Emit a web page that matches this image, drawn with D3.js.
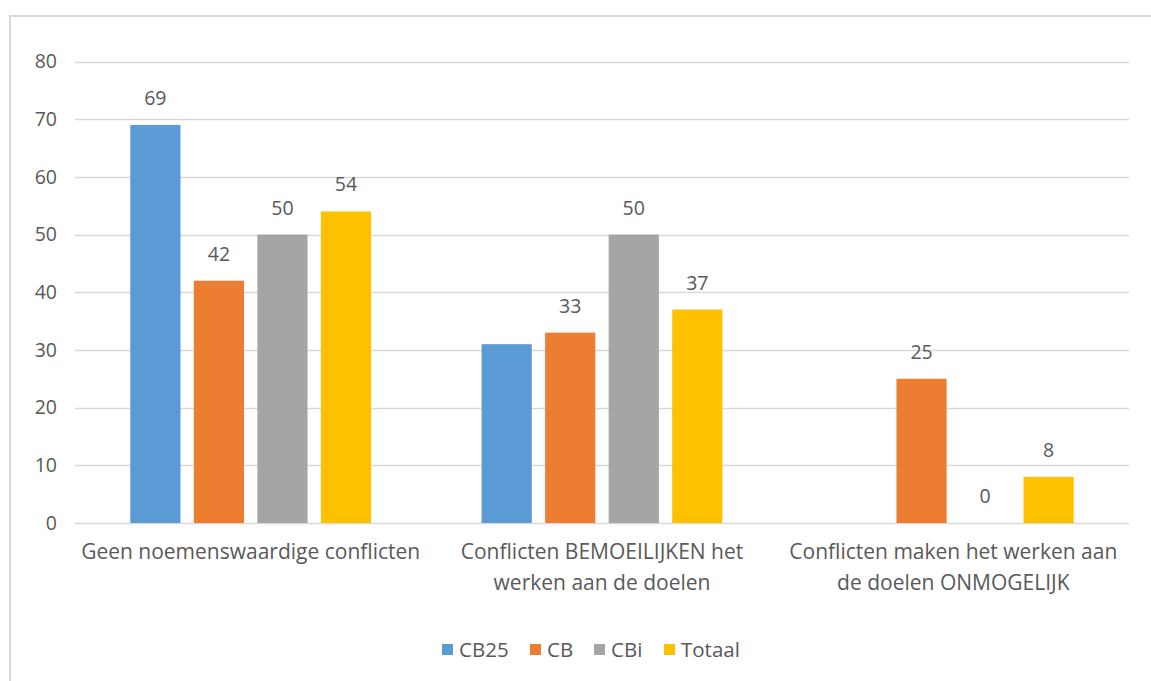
<!DOCTYPE html>
<head>
<meta charset="utf-8">
<title>Conflicten</title>
<style>
body {
  margin: 0;
  padding: 0;
  background: #fff;
  font-family: "Open Sans", sans-serif;
}
.grid line {
  stroke: #d9d9d9;
  stroke-width: 1.3;
}
text {
  fill: #595959;
}
</style>
</head>
<body>
<svg id="viz" width="1151" height="681"></svg>
<script src="https://d3js.org/d3.v7.min.js"></script>
<script>

var categories = [
  ["Geen noemenswaardige conflicten"],
  ["Conflicten BEMOEILIJKEN het", "werken aan de doelen"],
  ["Conflicten maken het werken aan", "de doelen ONMOGELIJK"]
]
var series = ["CB25", "CB", "CBi", "Totaal"]
var colors = ["#5b9bd5", "#ed7d31", "#a5a5a5", "#ffc000"]
var cb25 = [69, 31, null]
var cb = [42, 33, 25]
var cbi = [50, 50, 0]
var totaal = [54, 37, 8]
// labels Excel did not show
var hiddenLabels = [["CB25", 1]]
var yTicks = [0, 10, 20, 30, 40, 50, 60, 70, 80]

var values = [cb25, cb, cbi, totaal]

var svg = d3.select("#viz")

// chart frame
svg.append("path")
  .attr("d", "M10,700 L10,16 L1160,16")
  .attr("fill", "none")
  .attr("stroke", "#d9d9d9")
  .attr("stroke-width", 2)

var y = d3.scaleLinear().domain([0, 80]).range([523, 61.5])
var x0 = d3.scaleBand().domain([0, 1, 2]).range([75, 1129])
var x1 = d3.scaleBand().domain(series).range([0, x0.bandwidth()])
  .paddingInner(0.21).paddingOuter(0.87)

var grid = svg.append("g").attr("class", "grid")
grid.selectAll("line")
  .data(yTicks)
  .enter().append("line")
    .attr("x1", 75)
    .attr("x2", 1129)
    .attr("y1", function(d) { return Math.round(y(d)) + 0.5 })
    .attr("y2", function(d) { return Math.round(y(d)) + 0.5 })

svg.append("g").selectAll("text")
  .data(yTicks)
  .enter().append("text")
    .attr("x", 57)
    .attr("y", function(d) { return y(d) })
    .attr("dy", "0.35em")
    .attr("text-anchor", "end")
    .style("font-size", "19.5px")
    .text(function(d) { return d })

var rows = []
series.forEach(function(s, si) {
  values[si].forEach(function(v, ci) {
    if (v === null) return
    var hidden = hiddenLabels.some(function(h) { return h[0] === s && h[1] === ci })
    rows.push({ s: s, si: si, ci: ci, v: v, hidden: hidden })
  })
})

svg.append("g").selectAll("rect")
  .data(rows)
  .enter().append("rect")
    .attr("x", function(d) { return x0(d.ci) + x1(d.s) })
    .attr("width", x1.bandwidth())
    .attr("y", function(d) { return y(d.v) })
    .attr("height", function(d) { return y(0) - y(d.v) })
    .attr("fill", function(d) { return colors[d.si] })

svg.append("g").selectAll("text")
  .data(rows.filter(function(d) { return !d.hidden }))
  .enter().append("text")
    .attr("x", function(d) { return x0(d.ci) + x1(d.s) + x1.bandwidth() / 2 })
    .attr("y", function(d) { return y(d.v) - 20 })
    .attr("text-anchor", "middle")
    .style("font-size", "19.5px")
    .text(function(d) { return d.v })

var catLabels = svg.append("g").selectAll("text")
  .data(categories)
  .enter().append("text")
    .attr("x", function(d, i) { return x0(i) + x0.bandwidth() / 2 })
    .attr("y", 559)
    .attr("text-anchor", "middle")
    .style("font-size", "21px")

catLabels.selectAll("tspan")
  .data(function(d) { return d })
  .enter().append("tspan")
    .attr("x", function() { return d3.select(this.parentNode).attr("x") })
    .attr("dy", function(d, i) { return i === 0 ? 0 : 31 })
    .text(function(d) { return d })

// legend
var legendX = [442, 530, 594, 664]
var legend = svg.append("g").selectAll("g")
  .data(series)
  .enter().append("g")
    .attr("transform", function(d, i) { return "translate(" + legendX[i] + ",644)" })

legend.append("rect")
  .attr("width", 11)
  .attr("height", 11)
  .attr("fill", function(d, i) { return colors[i] })

legend.append("text")
  .attr("x", 17)
  .attr("y", 6)
  .attr("dy", "0.35em")
  .style("font-size", "20.5px")
  .text(function(d) { return d })

</script>
</body>
</html>
